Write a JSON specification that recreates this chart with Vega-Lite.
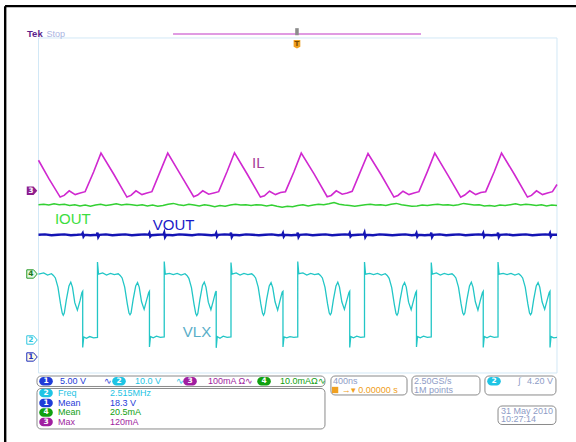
{
"$schema": "https://vega.github.io/schema/vega-lite/v6.json",
"width": 576, "height": 442, "padding": 0, "autosize": {"type": "none"},
"background": "#ffffff",
"config": {"view": {"stroke": null}},
"datasets": {
"il": [{"t":0,"v":1.08},{"t":80,"v":0.64},{"t":167,"v":0.20},{"t":198,"v":0.24},{"t":237,"v":0.35},{"t":283,"v":0.26},{"t":322,"v":0.30},{"t":360,"v":0.33},{"t":425,"v":0.80},{"t":482,"v":1.25},
{"t":582,"v":0.74},{"t":682,"v":0.20},{"t":713,"v":0.24},{"t":752,"v":0.35},{"t":798,"v":0.26},{"t":837,"v":0.30},{"t":875,"v":0.33},{"t":940,"v":0.82},{"t":997,"v":1.25},
{"t":1097,"v":0.73},{"t":1197,"v":0.21},{"t":1228,"v":0.25},{"t":1267,"v":0.35},{"t":1313,"v":0.27},{"t":1352,"v":0.30},{"t":1390,"v":0.33},{"t":1455,"v":0.81},{"t":1512,"v":1.26},
{"t":1612,"v":0.74},{"t":1712,"v":0.20},{"t":1743,"v":0.23},{"t":1782,"v":0.34},{"t":1828,"v":0.26},{"t":1867,"v":0.31},{"t":1905,"v":0.33},{"t":1970,"v":0.80},{"t":2027,"v":1.25},
{"t":2127,"v":0.75},{"t":2227,"v":0.21},{"t":2258,"v":0.24},{"t":2297,"v":0.35},{"t":2343,"v":0.27},{"t":2382,"v":0.30},{"t":2420,"v":0.34},{"t":2485,"v":0.82},{"t":2542,"v":1.24},
{"t":2642,"v":0.74},{"t":2742,"v":0.20},{"t":2773,"v":0.24},{"t":2812,"v":0.34},{"t":2858,"v":0.26},{"t":2897,"v":0.30},{"t":2935,"v":0.33},{"t":3000,"v":0.81},{"t":3057,"v":1.25},
{"t":3157,"v":0.73},{"t":3257,"v":0.20},{"t":3288,"v":0.25},{"t":3327,"v":0.35},{"t":3373,"v":0.26},{"t":3412,"v":0.31},{"t":3450,"v":0.33},{"t":3515,"v":0.80},{"t":3572,"v":1.25},
{"t":3672,"v":0.74},{"t":3772,"v":0.20},{"t":3803,"v":0.24},{"t":3842,"v":0.35},{"t":3888,"v":0.26},{"t":3927,"v":0.30},{"t":3965,"v":0.33},{"t":4000,"v":0.50}],
"iout": [{"t":0,"v":0.02},{"t":40,"v":0.03},{"t":80,"v":0.01},{"t":120,"v":0.04},{"t":160,"v":0.02},{"t":200,"v":0.03},{"t":240,"v":0.00},{"t":280,"v":0.02},{"t":320,"v":-0.01},{"t":360,"v":0.01},{"t":400,"v":-0.02},{"t":440,"v":0.01},{"t":480,"v":0.03},{"t":520,"v":0.00},{"t":560,"v":0.02},{"t":600,"v":0.04},{"t":640,"v":0.01},{"t":680,"v":0.03},{"t":720,"v":0.02},{"t":760,"v":0.00},{"t":800,"v":0.02},{"t":840,"v":-0.01},{"t":880,"v":0.01},{"t":920,"v":-0.02},{"t":960,"v":0.00},{"t":1000,"v":0.03},{"t":1040,"v":0.05},{"t":1080,"v":0.02},{"t":1120,"v":0.00},{"t":1160,"v":0.03},{"t":1200,"v":0.01},{"t":1240,"v":-0.01},{"t":1280,"v":0.02},{"t":1320,"v":0.00},{"t":1360,"v":-0.03},{"t":1400,"v":0.00},{"t":1440,"v":-0.02},{"t":1480,"v":0.01},{"t":1520,"v":0.03},{"t":1560,"v":0.01},{"t":1600,"v":0.02},{"t":1640,"v":0.00},{"t":1680,"v":0.02},{"t":1720,"v":0.01},{"t":1760,"v":-0.01},{"t":1800,"v":0.01},{"t":1840,"v":-0.02},{"t":1880,"v":-0.04},{"t":1920,"v":-0.02},{"t":1960,"v":-0.03},{"t":2000,"v":0.00},{"t":2040,"v":0.02},{"t":2080,"v":-0.01},{"t":2120,"v":0.01},{"t":2160,"v":0.03},{"t":2200,"v":0.02},{"t":2240,"v":0.04},{"t":2280,"v":0.07},{"t":2320,"v":0.03},{"t":2360,"v":0.01},{"t":2400,"v":0.00},{"t":2440,"v":-0.02},{"t":2480,"v":0.00},{"t":2520,"v":0.02},{"t":2560,"v":0.03},{"t":2600,"v":0.01},{"t":2640,"v":0.02},{"t":2680,"v":0.00},{"t":2720,"v":0.03},{"t":2760,"v":0.05},{"t":2800,"v":0.02},{"t":2840,"v":0.00},{"t":2880,"v":-0.02},{"t":2920,"v":-0.01},{"t":2960,"v":0.01},{"t":3000,"v":0.00},{"t":3040,"v":0.02},{"t":3080,"v":0.03},{"t":3120,"v":0.01},{"t":3160,"v":0.02},{"t":3200,"v":0.00},{"t":3240,"v":0.02},{"t":3280,"v":0.05},{"t":3320,"v":0.03},{"t":3360,"v":0.01},{"t":3400,"v":0.02},{"t":3440,"v":-0.01},{"t":3480,"v":0.00},{"t":3520,"v":-0.02},{"t":3560,"v":0.01},{"t":3600,"v":0.00},{"t":3640,"v":0.02},{"t":3680,"v":0.04},{"t":3720,"v":0.01},{"t":3760,"v":0.03},{"t":3800,"v":0.02},{"t":3840,"v":0.00},{"t":3880,"v":0.02},{"t":3920,"v":-0.01},{"t":3960,"v":0.01},{"t":4000,"v":0.00}],
"vout": [{"t":0,"v":-0.70},{"t":50,"v":-0.69},{"t":100,"v":-0.71},{"t":150,"v":-0.70},{"t":200,"v":-0.69},{"t":250,"v":-0.71},{"t":300,"v":-0.70},{"t":335,"v":-0.69},{"t":341,"v":-0.66},{"t":347,"v":-0.74},{"t":355,"v":-0.70},{"t":400,"v":-0.71},{"t":450,"v":-0.70},{"t":455,"v":-0.65},{"t":461,"v":-0.75},{"t":470,"v":-0.70},{"t":520,"v":-0.69},{"t":570,"v":-0.71},{"t":620,"v":-0.70},{"t":670,"v":-0.69},{"t":720,"v":-0.71},{"t":770,"v":-0.70},{"t":820,"v":-0.69},{"t":850,"v":-0.70},{"t":856,"v":-0.66},{"t":862,"v":-0.74},{"t":870,"v":-0.71},{"t":920,"v":-0.70},{"t":965,"v":-0.69},{"t":970,"v":-0.65},{"t":976,"v":-0.75},{"t":985,"v":-0.70},{"t":1035,"v":-0.71},{"t":1085,"v":-0.69},{"t":1135,"v":-0.70},{"t":1185,"v":-0.71},{"t":1235,"v":-0.69},{"t":1285,"v":-0.70},{"t":1335,"v":-0.71},{"t":1365,"v":-0.70},{"t":1371,"v":-0.66},{"t":1377,"v":-0.74},{"t":1385,"v":-0.70},{"t":1435,"v":-0.69},{"t":1480,"v":-0.70},{"t":1485,"v":-0.65},{"t":1491,"v":-0.75},{"t":1500,"v":-0.70},{"t":1550,"v":-0.71},{"t":1600,"v":-0.69},{"t":1650,"v":-0.70},{"t":1700,"v":-0.71},{"t":1750,"v":-0.70},{"t":1800,"v":-0.69},{"t":1850,"v":-0.71},{"t":1880,"v":-0.70},{"t":1886,"v":-0.66},{"t":1892,"v":-0.74},{"t":1900,"v":-0.70},{"t":1950,"v":-0.71},{"t":1995,"v":-0.70},{"t":2000,"v":-0.65},{"t":2006,"v":-0.75},{"t":2015,"v":-0.70},{"t":2065,"v":-0.69},{"t":2115,"v":-0.71},{"t":2165,"v":-0.70},{"t":2215,"v":-0.69},{"t":2265,"v":-0.71},{"t":2315,"v":-0.70},{"t":2365,"v":-0.69},{"t":2395,"v":-0.70},{"t":2401,"v":-0.66},{"t":2407,"v":-0.74},{"t":2415,"v":-0.71},{"t":2465,"v":-0.70},{"t":2510,"v":-0.69},{"t":2515,"v":-0.65},{"t":2521,"v":-0.75},{"t":2530,"v":-0.70},{"t":2580,"v":-0.71},{"t":2630,"v":-0.69},{"t":2680,"v":-0.70},{"t":2730,"v":-0.71},{"t":2780,"v":-0.70},{"t":2830,"v":-0.69},{"t":2880,"v":-0.71},{"t":2910,"v":-0.70},{"t":2916,"v":-0.66},{"t":2922,"v":-0.74},{"t":2930,"v":-0.70},{"t":2980,"v":-0.71},{"t":3025,"v":-0.70},{"t":3030,"v":-0.65},{"t":3036,"v":-0.75},{"t":3045,"v":-0.70},{"t":3095,"v":-0.69},{"t":3145,"v":-0.71},{"t":3195,"v":-0.70},{"t":3245,"v":-0.69},{"t":3295,"v":-0.71},{"t":3345,"v":-0.70},{"t":3395,"v":-0.69},{"t":3425,"v":-0.70},{"t":3431,"v":-0.66},{"t":3437,"v":-0.74},{"t":3445,"v":-0.70},{"t":3495,"v":-0.71},{"t":3540,"v":-0.70},{"t":3545,"v":-0.65},{"t":3551,"v":-0.75},{"t":3560,"v":-0.70},{"t":3610,"v":-0.69},{"t":3660,"v":-0.71},{"t":3710,"v":-0.70},{"t":3760,"v":-0.69},{"t":3810,"v":-0.71},{"t":3860,"v":-0.70},{"t":3910,"v":-0.69},{"t":3940,"v":-0.70},{"t":3946,"v":-0.66},{"t":3952,"v":-0.74},{"t":3960,"v":-0.70},{"t":4000,"v":-0.70}],
"vlx": [{"t":0,"v":-1.64},{"t":40,"v":-1.61},{"t":70,"v":-1.66},{"t":100,"v":-1.63},{"t":115,"v":-1.67},{"t":130,"v":-1.73},{"t":150,"v":-1.95},{"t":170,"v":-2.35},{"t":183,"v":-2.57},{"t":191,"v":-2.62},{"t":199,"v":-2.57},{"t":215,"v":-2.25},{"t":235,"v":-1.92},{"t":249,"v":-1.83},{"t":262,"v":-1.95},{"t":280,"v":-2.32},{"t":300,"v":-2.50},{"t":320,"v":-2.28},{"t":335,"v":-2.08},{"t":341,"v":-2.05},{"t":341,"v":-3.39},{"t":349,"v":-3.14},{"t":370,"v":-3.17},{"t":395,"v":-3.13},{"t":425,"v":-3.16},
{"t":455,"v":-3.15},{"t":455,"v":-1.35},{"t":463,"v":-1.64},{"t":495,"v":-1.61},{"t":525,"v":-1.66},{"t":555,"v":-1.62},{"t":585,"v":-1.65},{"t":615,"v":-1.63},{"t":630,"v":-1.67},{"t":645,"v":-1.73},{"t":665,"v":-1.95},{"t":685,"v":-2.35},{"t":698,"v":-2.57},{"t":706,"v":-2.61},{"t":714,"v":-2.57},{"t":730,"v":-2.25},{"t":750,"v":-1.92},{"t":764,"v":-1.84},{"t":777,"v":-1.95},{"t":795,"v":-2.30},{"t":815,"v":-2.48},{"t":835,"v":-2.25},{"t":850,"v":-2.08},{"t":856,"v":-2.05},{"t":856,"v":-3.38},{"t":864,"v":-3.13},{"t":885,"v":-3.16},{"t":910,"v":-3.12},{"t":940,"v":-3.15},
{"t":970,"v":-3.14},{"t":970,"v":-1.34},{"t":978,"v":-1.64},{"t":1010,"v":-1.62},{"t":1040,"v":-1.65},{"t":1070,"v":-1.62},{"t":1100,"v":-1.66},{"t":1130,"v":-1.63},{"t":1145,"v":-1.67},{"t":1160,"v":-1.74},{"t":1180,"v":-1.96},{"t":1200,"v":-2.36},{"t":1213,"v":-2.58},{"t":1221,"v":-2.63},{"t":1229,"v":-2.58},{"t":1245,"v":-2.25},{"t":1265,"v":-1.91},{"t":1279,"v":-1.83},{"t":1292,"v":-1.95},{"t":1310,"v":-2.31},{"t":1330,"v":-2.49},{"t":1350,"v":-2.26},{"t":1365,"v":-2.08},{"t":1371,"v":-2.04},{"t":1371,"v":-3.40},{"t":1379,"v":-3.13},{"t":1400,"v":-3.17},{"t":1425,"v":-3.12},{"t":1455,"v":-3.15},
{"t":1485,"v":-3.14},{"t":1485,"v":-1.36},{"t":1493,"v":-1.64},{"t":1525,"v":-1.61},{"t":1555,"v":-1.66},{"t":1585,"v":-1.62},{"t":1615,"v":-1.65},{"t":1645,"v":-1.63},{"t":1660,"v":-1.67},{"t":1675,"v":-1.73},{"t":1695,"v":-1.95},{"t":1715,"v":-2.35},{"t":1728,"v":-2.57},{"t":1736,"v":-2.62},{"t":1744,"v":-2.57},{"t":1760,"v":-2.24},{"t":1780,"v":-1.92},{"t":1794,"v":-1.84},{"t":1807,"v":-1.96},{"t":1825,"v":-2.30},{"t":1845,"v":-2.50},{"t":1865,"v":-2.25},{"t":1880,"v":-2.07},{"t":1886,"v":-2.05},{"t":1886,"v":-3.38},{"t":1894,"v":-3.14},{"t":1915,"v":-3.16},{"t":1940,"v":-3.13},{"t":1970,"v":-3.15},
{"t":2000,"v":-3.14},{"t":2000,"v":-1.34},{"t":2008,"v":-1.63},{"t":2040,"v":-1.61},{"t":2070,"v":-1.66},{"t":2100,"v":-1.62},{"t":2130,"v":-1.65},{"t":2160,"v":-1.63},{"t":2175,"v":-1.67},{"t":2190,"v":-1.73},{"t":2210,"v":-1.95},{"t":2230,"v":-2.35},{"t":2243,"v":-2.57},{"t":2251,"v":-2.61},{"t":2259,"v":-2.57},{"t":2275,"v":-2.25},{"t":2295,"v":-1.92},{"t":2309,"v":-1.83},{"t":2322,"v":-1.95},{"t":2340,"v":-2.30},{"t":2360,"v":-2.48},{"t":2380,"v":-2.25},{"t":2395,"v":-2.08},{"t":2401,"v":-2.05},{"t":2401,"v":-3.39},{"t":2409,"v":-3.13},{"t":2430,"v":-3.16},{"t":2455,"v":-3.12},{"t":2485,"v":-3.15},
{"t":2515,"v":-3.14},{"t":2515,"v":-1.35},{"t":2523,"v":-1.64},{"t":2555,"v":-1.62},{"t":2585,"v":-1.65},{"t":2615,"v":-1.62},{"t":2645,"v":-1.66},{"t":2675,"v":-1.63},{"t":2690,"v":-1.67},{"t":2705,"v":-1.74},{"t":2725,"v":-1.96},{"t":2745,"v":-2.36},{"t":2758,"v":-2.58},{"t":2766,"v":-2.62},{"t":2774,"v":-2.57},{"t":2790,"v":-2.25},{"t":2810,"v":-1.92},{"t":2824,"v":-1.84},{"t":2837,"v":-1.95},{"t":2855,"v":-2.31},{"t":2875,"v":-2.49},{"t":2895,"v":-2.25},{"t":2910,"v":-2.08},{"t":2916,"v":-2.05},{"t":2916,"v":-3.38},{"t":2924,"v":-3.13},{"t":2945,"v":-3.16},{"t":2970,"v":-3.12},{"t":3000,"v":-3.15},
{"t":3030,"v":-3.14},{"t":3030,"v":-1.36},{"t":3038,"v":-1.64},{"t":3070,"v":-1.61},{"t":3100,"v":-1.66},{"t":3130,"v":-1.62},{"t":3160,"v":-1.65},{"t":3190,"v":-1.63},{"t":3205,"v":-1.67},{"t":3220,"v":-1.73},{"t":3240,"v":-1.95},{"t":3260,"v":-2.35},{"t":3273,"v":-2.57},{"t":3281,"v":-2.61},{"t":3289,"v":-2.57},{"t":3305,"v":-2.25},{"t":3325,"v":-1.92},{"t":3339,"v":-1.83},{"t":3352,"v":-1.95},{"t":3370,"v":-2.30},{"t":3390,"v":-2.50},{"t":3410,"v":-2.25},{"t":3425,"v":-2.08},{"t":3431,"v":-2.05},{"t":3431,"v":-3.39},{"t":3439,"v":-3.13},{"t":3460,"v":-3.16},{"t":3485,"v":-3.12},{"t":3515,"v":-3.15},
{"t":3545,"v":-3.14},{"t":3545,"v":-1.35},{"t":3553,"v":-1.64},{"t":3585,"v":-1.62},{"t":3615,"v":-1.65},{"t":3645,"v":-1.62},{"t":3675,"v":-1.66},{"t":3705,"v":-1.63},{"t":3720,"v":-1.67},{"t":3735,"v":-1.73},{"t":3755,"v":-1.95},{"t":3775,"v":-2.35},{"t":3788,"v":-2.57},{"t":3796,"v":-2.61},{"t":3804,"v":-2.57},{"t":3820,"v":-2.25},{"t":3840,"v":-1.92},{"t":3854,"v":-1.84},{"t":3867,"v":-1.95},{"t":3885,"v":-2.30},{"t":3905,"v":-2.48},{"t":3925,"v":-2.25},{"t":3940,"v":-2.08},{"t":3946,"v":-2.05},{"t":3946,"v":-3.39},{"t":3954,"v":-3.13},{"t":3975,"v":-3.16},{"t":4000,"v":-3.15}],
"labels": [{"t":1696,"v":1.02,"s":"IL","c":"lil"},{"t":265,"v":-0.32,"s":"IOUT","c":"liout"},{"t":1043,"v":-0.466,"s":"VOUT","c":"lvout"},{"t":1223,"v":-3.01,"s":"VLX","c":"lvlx"}],
"frame": [{"t":-258,"v":4.76,"t2":4146.6,"v2":4.76},{"t":-257,"v":4.76,"t2":-257,"v2":-5.648}],
"boxes": [{"t":-11.6,"v":-4.072,"t2":2210,"v2":-4.322},{"t":-11.6,"v":-4.37,"t2":2210,"v2":-5.337},{"t":2256,"v":-4.072,"t2":2843,"v2":-4.525},{"t":2881,"v":-4.072,"t2":3406,"v2":-4.525},{"t":3444,"v":-4.072,"t2":3992,"v2":-4.525},{"t":3545,"v":-4.788,"t2":3992,"v2":-5.23}],
"ptext": [{"t":166,"v":-4.2,"s":"5.00 V","c":"ch1"},{"t":505,"v":-4.2,"s":"∿","c":"ch1"},{"t":745,"v":-4.2,"s":"10.0 V","c":"ch2"},{"t":1061,"v":-4.2,"s":"∿","c":"ch2"},{"t":1308,"v":-4.2,"s":"100mA Ω∿","c":"ch3"},{"t":1863,"v":-4.2,"s":"10.0mAΩ∿","c":"ch4"},
{"t":150,"v":-4.478,"s":"Freq","c":"ch2"},{"t":552,"v":-4.478,"s":"2.515MHz","c":"ch2"},{"t":150,"v":-4.716,"s":"Mean","c":"ch1"},{"t":552,"v":-4.716,"s":"18.3 V","c":"ch1"},{"t":150,"v":-4.943,"s":"Mean","c":"ch4"},{"t":552,"v":-4.943,"s":"20.5mA","c":"ch4"},{"t":150,"v":-5.17,"s":"Max","c":"ch3"},{"t":552,"v":-5.17,"s":"120mA","c":"ch3"},
{"t":2272,"v":-4.191,"s":"400ns","c":"info"},{"t":2340,"v":-4.406,"s":"→▾ 0.00000 s","c":"trig"},{"t":2897,"v":-4.191,"s":"2.50GS/s","c":"info"},{"t":2897,"v":-4.406,"s":"1M points","c":"info"},{"t":3700,"v":-4.2,"s":"∫","c":"info"},{"t":3768,"v":-4.2,"s":"4.20 V","c":"info"},{"t":3568,"v":-4.896,"s":"31 May 2010","c":"info"},{"t":3568,"v":-5.099,"s":"10:27:14","c":"info"}],
"pills": [{"t":58,"v":-4.2,"n":"1","c":"ch1"},{"t":621,"v":-4.2,"n":"2","c":"ch2"},{"t":1169,"v":-4.2,"n":"3","c":"ch3"},{"t":1740,"v":-4.2,"n":"4","c":"ch4"},{"t":58,"v":-4.478,"n":"2","c":"ch2"},{"t":58,"v":-4.716,"n":"1","c":"ch1"},{"t":58,"v":-4.943,"n":"4","c":"ch4"},{"t":58,"v":-5.17,"n":"3","c":"ch3"},{"t":3514,"v":-4.2,"n":"2","c":"ch2"}]
},
"encoding": {
"x": {"field": "t", "type": "quantitative", "scale": {"domain": [-297, 4146.6], "nice": false, "zero": false}, "axis": null},
"y": {"field": "v", "type": "quantitative", "scale": {"domain": [-5.648, 4.907], "nice": false, "zero": false}, "axis": null}
},
"layer": [
{"data": {"name": "frame"}, "mark": {"type": "rule", "color": "#000000", "strokeWidth": 2.4}, "encoding": {"x2": {"field": "t2"}, "y2": {"field": "v2"}}},
{"data": {"values": [{"t":0,"v":-4,"t2":4000,"v2":4}]}, "mark": {"type": "rect", "fill": null, "fillOpacity": 0, "stroke": "#d2e8f6", "strokeWidth": 1}, "encoding": {"x2": {"field": "t2"}, "y2": {"field": "v2"}}},
{"data": {"values": [{"t":1038,"v":4.096,"t2":2951}]}, "mark": {"type": "rule", "color": "#d67ad8", "strokeWidth": 1.4}, "encoding": {"x2": {"field": "t2"}}},
{"data": {"values": [{"t":1994,"v":4.15}]}, "mark": {"type": "point", "shape": "M-0.5,-1 L0.5,-1 L0.5,1 L-0.5,1 Z", "filled": true, "color": "#8c8c8c", "size": 50, "opacity": 1}},
{"data": {"values": [{"t":1994,"v":3.85}]}, "mark": {"type": "point", "shape": "M-0.8,-1 L0.8,-1 L0.8,0.6 L0,1 L-0.8,0.6 Z", "filled": true, "color": "#f0a020", "size": 70, "opacity": 1}},
{"data": {"values": [{"t":1994,"v":3.85,"s":"T"}]}, "mark": {"type": "text", "color": "#7a4a00", "font": "DejaVu Sans", "fontSize": 7, "fontWeight": "bold", "baseline": "middle"}, "encoding": {"text": {"field": "s"}}},
{"data": {"values": [{"t":-88.7,"v":4.096,"s":"Tek"}]}, "mark": {"type": "text", "color": "#5a1e8c", "font": "Liberation Sans", "fontSize": 9.5, "fontWeight": "bold", "align": "left", "baseline": "middle"}, "encoding": {"text": {"field": "s"}}},
{"data": {"values": [{"t":62,"v":4.096,"s":"Stop"}]}, "mark": {"type": "text", "color": "#aab4e2", "font": "Liberation Sans", "fontSize": 9, "align": "left", "baseline": "middle"}, "encoding": {"text": {"field": "s"}}},
{"data": {"name": "vlx"}, "mark": {"type": "line", "color": "#22c6c6", "strokeWidth": 1.3}, "encoding": {"order": {"value": null}}},
{"data": {"name": "iout"}, "mark": {"type": "line", "color": "#33d033", "strokeWidth": 1.5}, "encoding": {"order": {"value": null}}},
{"data": {"name": "vout"}, "mark": {"type": "line", "color": "#1414b4", "strokeWidth": 2.4}, "encoding": {"order": {"value": null}}},
{"data": {"name": "il"}, "mark": {"type": "line", "color": "#d028d0", "strokeWidth": 1.6}, "encoding": {"order": {"value": null}}},
{"data": {"name": "labels"}, "mark": {"type": "text", "font": "Liberation Sans", "fontSize": 15, "baseline": "middle", "align": "center"}, "encoding": {"text": {"field": "s"}, "color": {"field": "c", "type": "nominal", "legend": null, "scale": {"domain": ["ch1","ch2","ch3","ch4","info","trig","lil","liout","lvout","lvlx"], "range": ["#1f3cd8","#1ec4e4","#a01ea0","#10a010","#8e9cc6","#f0a020","#a8409a","#3ede3e","#1a1ac8","#58aec8"]}}}},
{"data": {"values": [{"t":-50,"v":0.353}]}, "mark": {"type": "point", "shape": "M-1,-0.8 L0.3,-0.8 L1,0 L0.3,0.8 L-1,0.8 Z", "filled": true, "color": "#8e1e8e", "size": 110, "opacity": 1}},
{"data": {"values": [{"t":-50,"v":-1.636}]}, "mark": {"type": "point", "shape": "M-1,-0.8 L0.3,-0.8 L1,0 L0.3,0.8 L-1,0.8 Z", "filled": false, "fill": "#e4f7e4", "stroke": "#2a9a2a", "strokeWidth": 1, "size": 110, "opacity": 1}},
{"data": {"values": [{"t":-50,"v":-3.212}]}, "mark": {"type": "point", "shape": "M-1,-0.8 L0.3,-0.8 L1,0 L0.3,0.8 L-1,0.8 Z", "filled": false, "fill": "#ffffff", "stroke": "#30c8e0", "strokeWidth": 1, "size": 110, "opacity": 1}},
{"data": {"values": [{"t":-50,"v":-3.618}]}, "mark": {"type": "point", "shape": "M-1,-0.8 L0.3,-0.8 L1,0 L0.3,0.8 L-1,0.8 Z", "filled": false, "fill": "#fffce0", "stroke": "#2030c0", "strokeWidth": 1, "size": 110, "opacity": 1}},
{"data": {"values": [{"t":-58,"v":0.353,"n":"3"}]}, "mark": {"type": "text", "color": "#ffffff", "font": "DejaVu Sans", "fontSize": 7.5, "fontWeight": "bold", "baseline": "middle"}, "encoding": {"text": {"field": "n"}}},
{"data": {"values": [{"t":-58,"v":-1.636,"n":"4"}]}, "mark": {"type": "text", "color": "#1a7a1a", "font": "DejaVu Sans", "fontSize": 7.5, "fontWeight": "bold", "baseline": "middle"}, "encoding": {"text": {"field": "n"}}},
{"data": {"values": [{"t":-58,"v":-3.212,"n":"2"}]}, "mark": {"type": "text", "color": "#30c8e0", "font": "DejaVu Sans", "fontSize": 7.5, "fontWeight": "bold", "baseline": "middle"}, "encoding": {"text": {"field": "n"}}},
{"data": {"values": [{"t":-58,"v":-3.618,"n":"1"}]}, "mark": {"type": "text", "color": "#2030c0", "font": "DejaVu Sans", "fontSize": 7.5, "fontWeight": "bold", "baseline": "middle"}, "encoding": {"text": {"field": "n"}}},
{"data": {"name": "boxes"}, "mark": {"type": "rect", "fill": "#ffffff", "stroke": "#8a8a8a", "strokeWidth": 1, "cornerRadius": 4}, "encoding": {"x2": {"field": "t2"}, "y2": {"field": "v2"}}},
{"data": {"name": "pills"}, "mark": {"type": "point", "shape": "M-0.45,-0.75 L0.45,-0.75 A0.75,0.75 0 0 1 0.45,0.75 L-0.45,0.75 A0.75,0.75 0 0 1 -0.45,-0.75 Z", "filled": true, "size": 128, "opacity": 1}, "encoding": {"color": {"field": "c", "type": "nominal", "legend": null, "scale": {"domain": ["ch1","ch2","ch3","ch4","info","trig","lil","liout","lvout","lvlx"], "range": ["#1f3cd8","#1ec4e4","#a01ea0","#10a010","#8e9cc6","#f0a020","#a8409a","#3ede3e","#1a1ac8","#58aec8"]}}}},
{"data": {"name": "pills"}, "mark": {"type": "text", "color": "#ffffff", "font": "DejaVu Sans", "fontSize": 7.5, "fontWeight": "bold", "baseline": "middle"}, "encoding": {"text": {"field": "n"}}},
{"data": {"values": [{"t":2288,"v":-4.406}]}, "mark": {"type": "point", "shape": "square", "filled": true, "color": "#f0a020", "size": 40, "opacity": 1}},
{"data": {"name": "ptext"}, "mark": {"type": "text", "font": "Liberation Sans", "fontSize": 9, "align": "left", "baseline": "middle"}, "encoding": {"text": {"field": "s"}, "color": {"field": "c", "type": "nominal", "legend": null, "scale": {"domain": ["ch1","ch2","ch3","ch4","info","trig","lil","liout","lvout","lvlx"], "range": ["#1f3cd8","#1ec4e4","#a01ea0","#10a010","#8e9cc6","#f0a020","#a8409a","#3ede3e","#1a1ac8","#58aec8"]}}}}
]
}
